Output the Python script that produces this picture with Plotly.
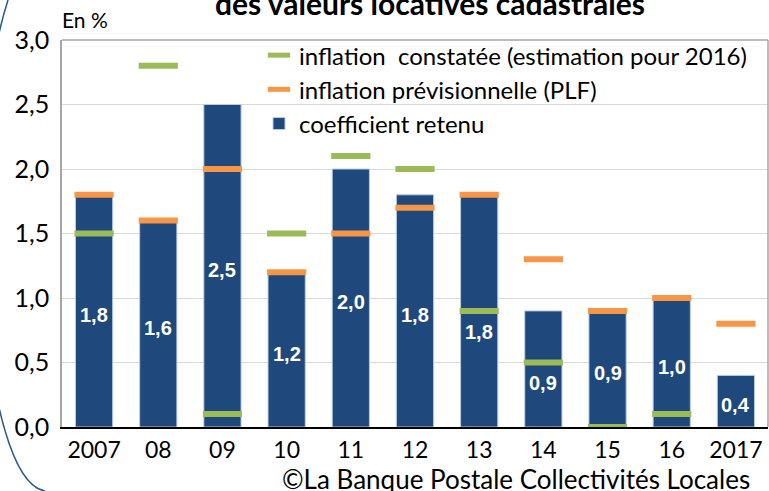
import plotly.graph_objects as go

categories = ["2007", "08", "09", "10", "11", "12", "13", "14", "15", "16", "2017"]
coef_retenu = [1.8, 1.6, 2.5, 1.2, 2.0, 1.8, 1.8, 0.9, 0.9, 1.0, 0.4]
infl_constatee = [1.5, 2.8, 0.1, 1.5, 2.1, 2.0, 0.9, 0.5, 0.0, 0.1, None]
infl_prev = [1.8, 1.6, 2.0, 1.2, 1.5, 1.7, 1.8, 1.3, 0.9, 1.0, 0.8]
y_ticks = [0, 0.5, 1.0, 1.5, 2.0, 2.5, 3.0]

W, H = 769, 491
ML, MR, MT, MB = 62, 1, 40, 64
PW, PH = W - ML - MR, H - MT - MB

def px(x):
    return (x - ML) / PW

def py(y):
    return (H - MB - y) / PH

FONT = "Lato, 'Open Sans', sans-serif"
BLUE = "#1f497d"
GREEN = "#9bbb59"
ORANGE = "#f79646"

fig = go.Figure()
fig.add_trace(go.Bar(
    x=categories, y=coef_retenu, name="coefficient retenu",
    marker=dict(color=BLUE, line=dict(color="#b8cce4", width=1)),
    legendrank=3,
))
fig.add_trace(go.Scatter(
    x=categories, y=infl_constatee, mode="markers",
    name="inflation  constatée (estimation pour 2016)",
    marker=dict(symbol="line-ew-open", size=28, color=GREEN, line=dict(color=GREEN, width=6)),
    legendrank=1,
))
fig.add_trace(go.Scatter(
    x=categories, y=infl_prev, mode="markers",
    name="inflation prévisionnelle (PLF)",
    marker=dict(symbol="line-ew-open", size=28, color=ORANGE, line=dict(color=ORANGE, width=6)),
    legendrank=2,
))

# value labels inside the bars: centred, moved below a marker that would hide them
label_annotations = []
for i, (v, g) in enumerate(zip(coef_retenu, infl_constatee)):
    ly = v / 2
    if g is not None and abs(g - ly) < 0.1:
        ly = g - 0.13
    label_annotations.append(dict(
        x=i, y=ly, xref="x", yref="y", text=f"{v:.1f}".replace(".", ","),
        showarrow=False, yshift=-4,
        font=dict(family="Arial, 'Liberation Sans', sans-serif", size=20,
                  color="white", weight="bold"),
    ))

fig.update_layout(
    width=W, height=H,
    margin=dict(l=ML, r=MR, t=MT, b=MB),
    paper_bgcolor="white", plot_bgcolor="white",
    separators=", ",
    font=dict(family=FONT, size=23, color="black"),
    bargap=0.42,
    showlegend=True,
    legend=dict(x=px(259), y=1.018, xanchor="left", yanchor="top",
                font=dict(family=FONT, size=24, color="black"),
                bgcolor="rgba(0,0,0,0)", itemwidth=30, tracegroupgap=0),
    xaxis=dict(type="category", range=[-0.5, len(categories) - 0.5],
               showgrid=False, showline=True, linecolor="black",
               linewidth=1.5, ticks="", tickfont=dict(size=23), ticklen=0,
               ticklabelstandoff=2),
    yaxis=dict(range=[0, 3.0], tickvals=y_ticks, tickformat=".1f",
               showgrid=True, gridcolor="#d9d9d9", gridwidth=1,
               showline=True, linecolor="#a6a6a6", linewidth=1.5,
               zeroline=False, ticks="", tickfont=dict(size=25),
               ticklabelstandoff=6),
    shapes=[
        dict(type="line", xref="paper", yref="paper", x0=0, x1=1, y0=1, y1=1,
             line=dict(color="#a6a6a6", width=1.5)),
        dict(type="line", xref="paper", yref="paper", x0=1, x1=1, y0=0, y1=1,
             line=dict(color="#a6a6a6", width=1.5)),
        dict(type="path", xref="paper", yref="paper",
             path=(f"M {px(8)},{py(0)} C {px(-40)},{py(150)} "
                   f"{px(-20)},{py(480)} {px(45)},{py(491)}"),
             line=dict(color="#2e5a8a", width=1.5)),
    ],
    annotations=label_annotations + [
        dict(text="<b>des valeurs locatives cadastrales</b>", xref="paper", yref="paper",
             x=px(430), y=py(3), xanchor="center", yanchor="middle", showarrow=False,
             font=dict(family=FONT, size=30, color="black")),
        dict(text="En %", xref="paper", yref="paper", x=px(60), y=py(20),
             xanchor="left", yanchor="middle", showarrow=False,
             font=dict(family=FONT, size=21, color="black")),
        dict(text="©La Banque Postale Collectivités Locales", xref="paper", yref="paper",
             x=px(752), y=py(479), xanchor="right", yanchor="middle", showarrow=False,
             font=dict(family=FONT, size=26, color="black")),
    ],
)

fig.write_html("out.html", config={"displayModeBar": False},
               post_script="document.body.style.margin='0';document.body.style.overflow='hidden';")
